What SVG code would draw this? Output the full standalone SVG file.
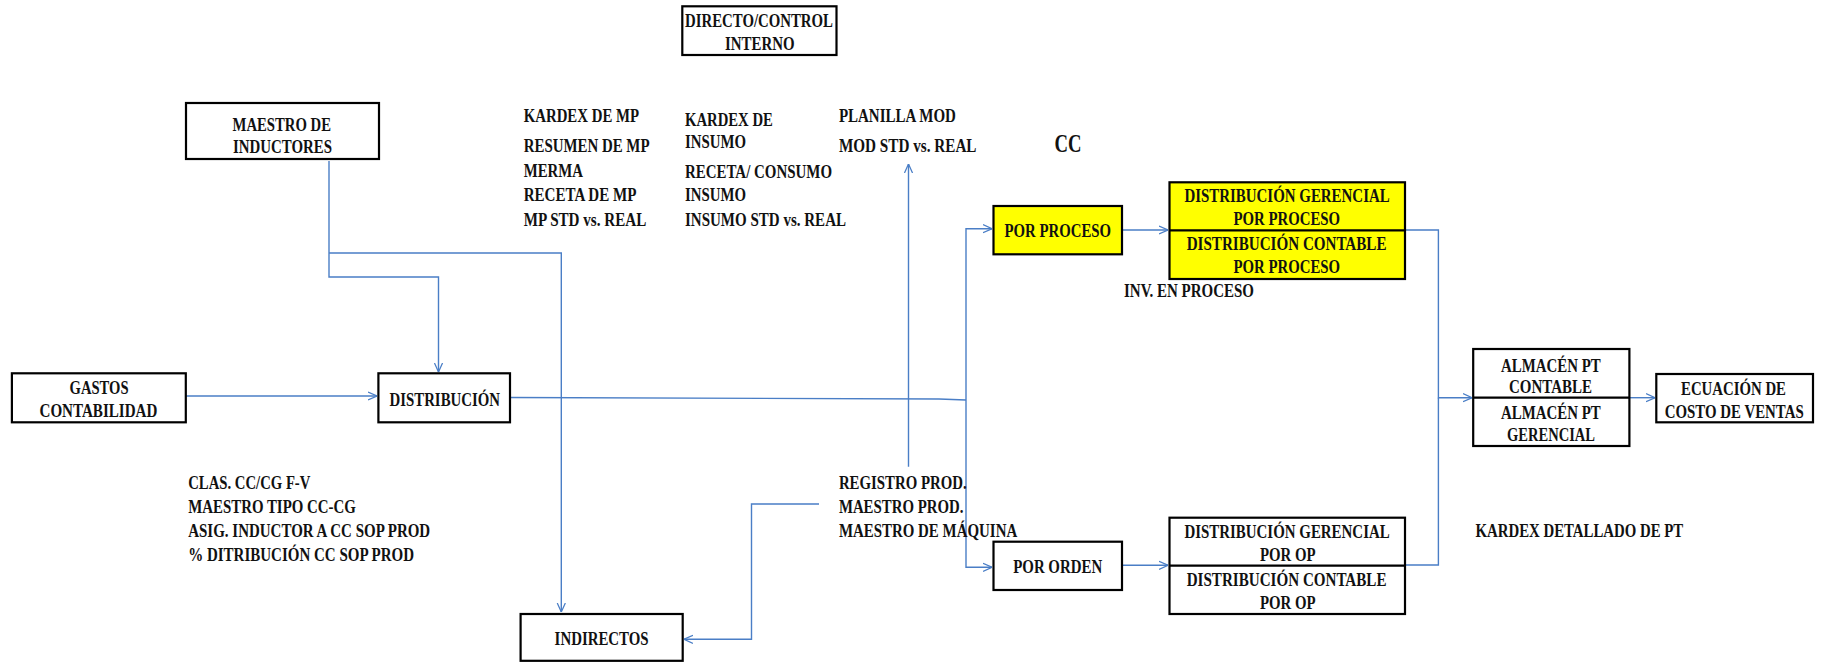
<svg xmlns="http://www.w3.org/2000/svg" width="1827" height="662" viewBox="0 0 1827 662" font-family="'Liberation Serif', 'Times New Roman', serif">
  <style>
    .bg { fill: #ffffff; }
    .box { fill: #ffffff; stroke: #000000; stroke-width: 2.2; }
    .hl { fill: #ffff00; stroke: #000000; stroke-width: 2.2; }
    .sep { stroke: #000000; stroke-width: 2.2; }
    text { font-family: 'Liberation Serif', 'Times New Roman', serif; font-weight: bold; font-size: 18.5px; fill: #111111; }
    .big { font-size: 26px; }
    .wire { fill: none; stroke: #4a7ec6; stroke-width: 1.4; }
  </style>
  <defs>
    <marker id="arrow" viewBox="0 0 10 10" refX="10" refY="5" markerWidth="9" markerHeight="10" markerUnits="userSpaceOnUse" orient="auto">
      <path d="M0,0.5 L10,5 L0,9.5" fill="none" stroke="#4a7ec6" stroke-width="1.4"/>
    </marker>
  </defs>
  <rect class="bg" x="0" y="0" width="1827" height="662"/>

  <!-- connectors -->
  <g id="connectors">
    <path class="wire" d="M186 396 H377" marker-end="url(#arrow)"/>
    <path class="wire" d="M329 161 V277 H438.5 V372" marker-end="url(#arrow)"/>
    <path class="wire" d="M329 253 H561.3 V612" marker-end="url(#arrow)"/>
    <path class="wire" d="M510 397.5 L939 399 L966 400"/>
    <path class="wire" d="M966 400 V228.7 H992" marker-end="url(#arrow)"/>
    <path class="wire" d="M966 400 V567.3 H992" marker-end="url(#arrow)"/>
    <path class="wire" d="M908.5 466.7 V164" marker-end="url(#arrow)"/>
    <path class="wire" d="M819 504 H751.5 V639.3 H684" marker-end="url(#arrow)"/>
    <path class="wire" d="M1122 230 H1168" marker-end="url(#arrow)"/>
    <path class="wire" d="M1122 565.3 H1168" marker-end="url(#arrow)"/>
    <path class="wire" d="M1405 230 H1438.4 V397.7 H1472" marker-end="url(#arrow)"/>
    <path class="wire" d="M1405 565 H1438.4 V397.7"/>
    <path class="wire" d="M1629.4 397.7 H1655" marker-end="url(#arrow)"/>
  </g>

  <g id="directo-control">
    <rect class="box" x="682.3" y="6.3" width="154.2" height="48.7"/>
    <text x="685" y="27.3" textLength="148" lengthAdjust="spacingAndGlyphs">DIRECTO/CONTROL</text>
    <text x="725" y="50" textLength="69.6" lengthAdjust="spacingAndGlyphs">INTERNO</text>
  </g>

  <g id="maestro-inductores">
    <rect class="box" x="186" y="103" width="193" height="56"/>
    <text x="232.5" y="131" textLength="98.5" lengthAdjust="spacingAndGlyphs">MAESTRO DE</text>
    <text x="233" y="153" textLength="99" lengthAdjust="spacingAndGlyphs">INDUCTORES</text>
  </g>

  <g id="notas-mp">
    <text x="523.7" y="122" textLength="115.4" lengthAdjust="spacingAndGlyphs">KARDEX DE MP</text>
    <text x="523.7" y="152" textLength="125.8" lengthAdjust="spacingAndGlyphs">RESUMEN DE MP</text>
    <text x="523.7" y="176.7" textLength="59.3" lengthAdjust="spacingAndGlyphs">MERMA</text>
    <text x="523.7" y="201" textLength="112.7" lengthAdjust="spacingAndGlyphs">RECETA DE MP</text>
    <text x="523.7" y="225.7" textLength="122.6" lengthAdjust="spacingAndGlyphs">MP STD vs. REAL</text>
  </g>

  <g id="notas-insumo">
    <text x="685" y="126" textLength="87.8" lengthAdjust="spacingAndGlyphs">KARDEX DE</text>
    <text x="685" y="148" textLength="61" lengthAdjust="spacingAndGlyphs">INSUMO</text>
    <text x="685" y="178.3" textLength="147" lengthAdjust="spacingAndGlyphs">RECETA/ CONSUMO</text>
    <text x="685" y="201" textLength="61" lengthAdjust="spacingAndGlyphs">INSUMO</text>
    <text x="685" y="225.7" textLength="161" lengthAdjust="spacingAndGlyphs">INSUMO STD vs. REAL</text>
  </g>

  <g id="notas-mod">
    <text x="838.9" y="122.3" textLength="117" lengthAdjust="spacingAndGlyphs">PLANILLA MOD</text>
    <text x="838.9" y="152.3" textLength="137.6" lengthAdjust="spacingAndGlyphs">MOD STD vs. REAL</text>
  </g>

  <g id="cc">
    <text class="big" x="1054.4" y="152.3" textLength="27" lengthAdjust="spacingAndGlyphs">CC</text>
  </g>

  <g id="por-proceso">
    <rect class="hl" x="993.5" y="206" width="128.5" height="48.3"/>
    <text x="1004.5" y="237" textLength="106.5" lengthAdjust="spacingAndGlyphs">POR PROCESO</text>
  </g>

  <g id="distribucion-proceso">
    <rect class="hl" x="1169.5" y="182.3" width="235.5" height="96.7"/>
    <line class="sep" x1="1169.5" y1="230.3" x2="1405" y2="230.3"/>
    <text x="1184.4" y="202.3" textLength="205.3" lengthAdjust="spacingAndGlyphs">DISTRIBUCIÓN GERENCIAL</text>
    <text x="1233.5" y="225" textLength="106.6" lengthAdjust="spacingAndGlyphs">POR PROCESO</text>
    <text x="1186.7" y="250" textLength="199.8" lengthAdjust="spacingAndGlyphs">DISTRIBUCIÓN CONTABLE</text>
    <text x="1233.5" y="273.3" textLength="106.6" lengthAdjust="spacingAndGlyphs">POR PROCESO</text>
  </g>

  <g id="inv-proceso">
    <text x="1124" y="296.7" textLength="130" lengthAdjust="spacingAndGlyphs">INV. EN PROCESO</text>
  </g>

  <g id="gastos">
    <rect class="box" x="11.9" y="373.3" width="173.9" height="49"/>
    <text x="69.6" y="394" textLength="58.9" lengthAdjust="spacingAndGlyphs">GASTOS</text>
    <text x="39.5" y="417.3" textLength="117.9" lengthAdjust="spacingAndGlyphs">CONTABILIDAD</text>
  </g>

  <g id="distribucion">
    <rect class="box" x="378.4" y="373.3" width="131.6" height="49"/>
    <text x="389.5" y="406" textLength="110.5" lengthAdjust="spacingAndGlyphs">DISTRIBUCIÓN</text>
  </g>

  <g id="almacen-pt">
    <rect class="box" x="1473.2" y="349" width="156.2" height="97"/>
    <line class="sep" x1="1473.2" y1="397.7" x2="1629.4" y2="397.7"/>
    <text x="1501" y="372" textLength="99.7" lengthAdjust="spacingAndGlyphs">ALMACÉN PT</text>
    <text x="1509" y="393.3" textLength="83" lengthAdjust="spacingAndGlyphs">CONTABLE</text>
    <text x="1501" y="419" textLength="99.7" lengthAdjust="spacingAndGlyphs">ALMACÉN PT</text>
    <text x="1507" y="440.7" textLength="88" lengthAdjust="spacingAndGlyphs">GERENCIAL</text>
  </g>

  <g id="ecuacion">
    <rect class="box" x="1656.3" y="374" width="156.7" height="48.3"/>
    <text x="1681" y="395" textLength="105" lengthAdjust="spacingAndGlyphs">ECUACIÓN DE</text>
    <text x="1664.7" y="417.7" textLength="139" lengthAdjust="spacingAndGlyphs">COSTO DE VENTAS</text>
  </g>

  <g id="notas-cc">
    <text x="188.2" y="489.3" textLength="122.2" lengthAdjust="spacingAndGlyphs">CLAS. CC/CG F-V</text>
    <text x="188.2" y="513.3" textLength="167.7" lengthAdjust="spacingAndGlyphs">MAESTRO TIPO CC-CG</text>
    <text x="188.2" y="537.3" textLength="242" lengthAdjust="spacingAndGlyphs">ASIG. INDUCTOR A CC SOP PROD</text>
    <text x="188.2" y="560.7" textLength="225.8" lengthAdjust="spacingAndGlyphs">% DITRIBUCIÓN CC SOP PROD</text>
  </g>

  <g id="notas-prod">
    <text x="838.9" y="489.3" textLength="127.7" lengthAdjust="spacingAndGlyphs">REGISTRO PROD.</text>
    <text x="838.9" y="513.3" textLength="124.5" lengthAdjust="spacingAndGlyphs">MAESTRO PROD.</text>
    <text x="838.9" y="537.3" textLength="178.3" lengthAdjust="spacingAndGlyphs">MAESTRO DE MÁQUINA</text>
  </g>

  <g id="kardex-pt">
    <text x="1475.5" y="536.7" textLength="207.7" lengthAdjust="spacingAndGlyphs">KARDEX DETALLADO DE PT</text>
  </g>

  <g id="por-orden">
    <rect class="box" x="993.5" y="541.7" width="128.5" height="48.3"/>
    <text x="1013.2" y="573.3" textLength="89" lengthAdjust="spacingAndGlyphs">POR ORDEN</text>
  </g>

  <g id="distribucion-op">
    <rect class="box" x="1169.5" y="517.7" width="235.5" height="96.3"/>
    <line class="sep" x1="1169.5" y1="565.7" x2="1405" y2="565.7"/>
    <text x="1184.4" y="538.3" textLength="205.3" lengthAdjust="spacingAndGlyphs">DISTRIBUCIÓN GERENCIAL</text>
    <text x="1260" y="561" textLength="55.6" lengthAdjust="spacingAndGlyphs">POR OP</text>
    <text x="1186.7" y="586" textLength="199.8" lengthAdjust="spacingAndGlyphs">DISTRIBUCIÓN CONTABLE</text>
    <text x="1260" y="608.7" textLength="55.6" lengthAdjust="spacingAndGlyphs">POR OP</text>
  </g>

  <g id="indirectos">
    <rect class="box" x="520.6" y="614" width="162.1" height="46.8"/>
    <text x="554.6" y="645" textLength="94" lengthAdjust="spacingAndGlyphs">INDIRECTOS</text>
  </g>
</svg>
